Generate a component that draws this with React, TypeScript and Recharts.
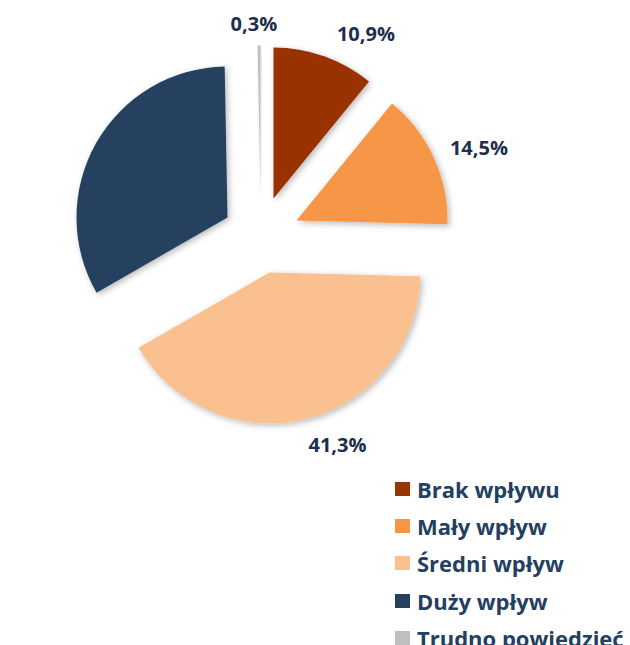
import { Cell, Legend, Pie, PieChart } from 'recharts';

const CATEGORIES = ['Brak wpływu', 'Mały wpływ', 'Średni wpływ', 'Duży wpływ', 'Trudno powiedzieć'];
const VALUES = [10.9, 14.5, 41.3, 33.0, 0.3];

const COLORS = ['#993300', '#F79646', '#FAC090', '#254061', '#BFBFBF'];
// each slice is pulled out of the pie by its own offset (px)
const EXPLODE = [
  { dx: 13, dy: -38 },
  { dx: 36, dy: -16 },
  { dx: 9, dy: 36 },
  { dx: -33, dy: -19 },
  { dx: 0, dy: -40 },
];
// label nudge from the default outside position
const LABEL_NUDGE = [
  { dx: 35, dy: -4 },
  { dx: 27, dy: -2 },
  { dx: 26, dy: 6 },
  { dx: -29, dy: -172 },
  { dx: -5, dy: -2 },
];

const FONT = '"Open Sans", Lato, sans-serif';
const TEXT = '#243F60';
const RADIAN = Math.PI / 180;

const data = CATEGORIES.map((name, i) => ({ name, value: VALUES[i] }));

function fmtPct(v: number): string {
  return `${v.toFixed(1).replace('.', ',')}%`;
}

function renderLabel(props: any) {
  const { cx, cy, midAngle, outerRadius, index, value } = props;
  const off = EXPLODE[index];
  const nudge = LABEL_NUDGE[index];
  const r = outerRadius + 20;
  const x = cx + off.dx + r * Math.cos(-midAngle * RADIAN) + nudge.dx;
  const y = cy + off.dy + r * Math.sin(-midAngle * RADIAN) + nudge.dy;
  return (
    <text
      x={x}
      y={y}
      textAnchor="middle"
      dominantBaseline="central"
      fill="#1C2F4C"
      fontFamily={FONT}
      fontWeight={700}
      fontSize={20}
    >
      {fmtPct(value)}
    </text>
  );
}

function renderLegend() {
  return (
    <div style={{ fontFamily: FONT, fontWeight: 700, fontSize: 22, color: TEXT }}>
      {CATEGORIES.map((name, i) => (
        <div key={name} style={{ display: 'flex', alignItems: 'center', height: 37.3 }}>
          <span
            style={{ width: 15, height: 14, background: COLORS[i], marginRight: 7, flex: 'none' }}
          />
          <span style={{ whiteSpace: 'nowrap' }}>{name}</span>
        </div>
      ))}
    </div>
  );
}

export default function App() {
  return (
    <div style={{ position: 'absolute', left: 0, top: 0, width: 630, height: 645, overflow: 'hidden', background: '#fff' }}>
      <PieChart width={630} height={645} margin={{ top: 0, right: 0, bottom: 0, left: 0 }}>
        <defs>
          <filter id="sliceShadow" x="-20%" y="-20%" width="140%" height="140%">
            <feDropShadow dx="2" dy="2" stdDeviation="3" floodColor="#000" floodOpacity="0.28" />
          </filter>
        </defs>
        <Pie
          data={data}
          dataKey="value"
          nameKey="name"
          cx={260.5}
          cy={236.5}
          outerRadius={151}
          startAngle={90}
          endAngle={-270}
          stroke="none"
          label={renderLabel}
          labelLine={false}
          isAnimationActive={false}
        >
          {data.map((d, i) => (
            <Cell
              key={d.name}
              fill={COLORS[i]}
              transform={`translate(${EXPLODE[i].dx}, ${EXPLODE[i].dy})`}
              filter="url(#sliceShadow)"
            />
          ))}
        </Pie>
        <Legend
          layout="vertical"
          content={renderLegend}
          wrapperStyle={{ position: 'absolute', left: 395, top: 470, width: 240 }}
        />
      </PieChart>
    </div>
  );
}
